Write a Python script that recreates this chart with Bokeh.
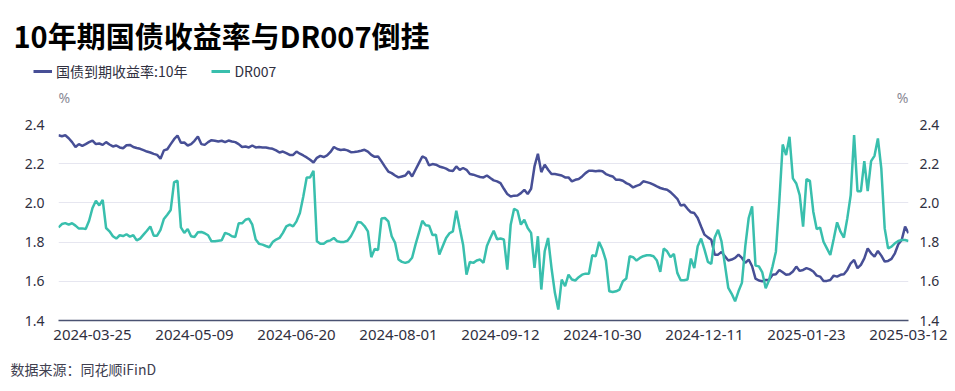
from bokeh.plotting import figure
from bokeh.layouts import column, row
from bokeh.models import (Range1d, LinearAxis, FixedTicker, Label, Legend,
                          LegendItem, PrintfTickFormatter)
from bokeh.embed import file_html
from bokeh.resources import INLINE

# ---------------- data ----------------
title_text = "10年期国债收益率与DR007倒挂"
series_names = ["国债到期收益率:10年", "DR007"]
source_text = "数据来源：同花顺iFinD"
unit_text = "%"

# trading-day positions that carry a date label, and the labels
tick_index = [10, 40, 70, 100, 130, 160, 190, 220, 250]
tick_labels = ["2024-03-25", "2024-05-09", "2024-06-20", "2024-08-01", "2024-09-12",
               "2024-10-30", "2024-12-11", "2025-01-23", "2025-03-12"]

y_ticks = [1.4, 1.6, 1.8, 2.0, 2.2, 2.4]

# 10Y government bond yield (%), one value per trading day
bond_10y = [
    2.345, 2.340, 2.345, 2.330, 2.310, 2.285, 2.300, 2.291, 2.300, 2.310,
    2.318, 2.300, 2.303, 2.296, 2.310, 2.298, 2.288, 2.293, 2.283, 2.279,
    2.294, 2.296, 2.285, 2.280, 2.276, 2.269, 2.262, 2.257, 2.250, 2.245,
    2.225, 2.268, 2.274, 2.300, 2.325, 2.344, 2.307, 2.308, 2.293, 2.300,
    2.317, 2.339, 2.300, 2.296, 2.310, 2.320, 2.317, 2.313, 2.317, 2.310,
    2.318, 2.313, 2.310, 2.300, 2.285, 2.288, 2.283, 2.293, 2.283, 2.285,
    2.283, 2.283, 2.279, 2.276, 2.268, 2.257, 2.262, 2.254, 2.245, 2.245,
    2.262, 2.251, 2.242, 2.232, 2.220, 2.206, 2.230, 2.240, 2.234, 2.242,
    2.260, 2.285, 2.275, 2.270, 2.272, 2.268, 2.259, 2.260, 2.262, 2.266,
    2.271, 2.262, 2.245, 2.235, 2.237, 2.212, 2.185, 2.160, 2.152, 2.140,
    2.130, 2.135, 2.140, 2.161, 2.135, 2.169, 2.203, 2.237, 2.229, 2.191,
    2.198, 2.195, 2.186, 2.181, 2.175, 2.165, 2.163, 2.186, 2.169, 2.178,
    2.169, 2.147, 2.144, 2.138, 2.132, 2.130, 2.140, 2.127, 2.115, 2.110,
    2.101, 2.072, 2.045, 2.033, 2.037, 2.038, 2.050, 2.067, 2.045, 2.072,
    2.186, 2.251, 2.157, 2.195, 2.169, 2.147, 2.147, 2.144, 2.140, 2.130,
    2.130, 2.110, 2.118, 2.122, 2.135, 2.152, 2.164, 2.164, 2.161, 2.164,
    2.161, 2.147, 2.140, 2.135, 2.118, 2.118, 2.113, 2.101, 2.093, 2.079,
    2.087, 2.093, 2.110, 2.106, 2.101, 2.093, 2.084, 2.076, 2.071, 2.067,
    2.055, 2.038, 2.021, 1.987, 1.991, 1.970, 1.952, 1.948, 1.923, 1.880,
    1.838, 1.824, 1.812, 1.735, 1.736, 1.750, 1.728, 1.706, 1.711, 1.719,
    1.736, 1.719, 1.694, 1.711, 1.677, 1.614, 1.604, 1.600, 1.607, 1.607,
    1.633, 1.636, 1.658, 1.646, 1.633, 1.636, 1.650, 1.675, 1.653, 1.658,
    1.667, 1.661, 1.650, 1.629, 1.624, 1.602, 1.602, 1.607, 1.629, 1.624,
    1.633, 1.636, 1.658, 1.692, 1.709, 1.667, 1.684, 1.717, 1.768, 1.743,
    1.726, 1.755, 1.731, 1.701, 1.704, 1.714, 1.743, 1.789, 1.811, 1.879,
    1.845,
]

# DR007 (%), one value per trading day
dr007 = [
    1.875, 1.892, 1.897, 1.889, 1.896, 1.884, 1.869, 1.870, 1.867, 1.909,
    1.974, 2.011, 1.987, 2.015, 1.872, 1.855, 1.830, 1.818, 1.835, 1.831,
    1.840, 1.828, 1.835, 1.809, 1.818, 1.838, 1.858, 1.880, 1.833, 1.833,
    1.863, 1.918, 1.940, 1.964, 2.106, 2.113, 1.875, 1.847, 1.867, 1.830,
    1.826, 1.850, 1.852, 1.845, 1.835, 1.804, 1.804, 1.807, 1.809, 1.847,
    1.841, 1.830, 1.826, 1.896, 1.896, 1.914, 1.920, 1.889, 1.813, 1.791,
    1.787, 1.780, 1.774, 1.800, 1.813, 1.821, 1.847, 1.880, 1.889, 1.880,
    1.906, 1.948, 2.033, 2.130, 2.130, 2.164, 1.804, 1.791, 1.791, 1.804,
    1.809, 1.821, 1.804, 1.801, 1.801, 1.807, 1.830, 1.863, 1.903, 1.900,
    1.882, 1.855, 1.723, 1.765, 1.760, 1.920, 1.923, 1.906, 1.830, 1.796,
    1.711, 1.699, 1.694, 1.700, 1.720, 1.787, 1.847, 1.909, 1.886, 1.884,
    1.836, 1.838, 1.736, 1.779, 1.821, 1.845, 1.855, 1.960, 1.872, 1.787,
    1.634, 1.699, 1.694, 1.706, 1.711, 1.694, 1.780, 1.821, 1.858, 1.815,
    1.818, 1.813, 1.660, 1.889, 1.970, 1.960, 1.889, 1.914, 1.872, 1.847,
    1.668, 1.830, 1.558, 1.753, 1.821, 1.668, 1.541, 1.456, 1.609, 1.575,
    1.634, 1.609, 1.604, 1.621, 1.634, 1.639, 1.639, 1.733, 1.728, 1.801,
    1.762, 1.706, 1.549, 1.545, 1.549, 1.558, 1.600, 1.614, 1.728, 1.723,
    1.706, 1.719, 1.728, 1.733, 1.733, 1.728, 1.706, 1.648, 1.767, 1.753,
    1.723, 1.740, 1.643, 1.605, 1.605, 1.609, 1.716, 1.668, 1.779, 1.818,
    1.762, 1.699, 1.689, 1.824, 1.863, 1.804, 1.685, 1.566, 1.536, 1.498,
    1.549, 1.592, 1.779, 1.923, 1.982, 1.680, 1.676, 1.645, 1.565, 1.607,
    1.675, 1.751, 2.006, 2.298, 2.244, 2.337, 2.125, 2.099, 2.040, 1.879,
    2.122, 2.112, 1.955, 1.867, 1.874, 1.802, 1.768, 1.734, 1.816, 1.901,
    1.853, 1.823, 1.921, 2.040, 2.346, 2.060, 2.060, 2.213, 2.060, 2.213,
    2.240, 2.329, 2.176, 1.870, 1.768, 1.777, 1.794, 1.806, 1.811, 1.811,
    1.806,
]

# ---------------- styling ----------------
BLUE = "#474f96"
TEAL = "#39bfad"
GRID = "#e6e6f0"
AXIS = "#4a5272"
TXT = "#30303f"
CJK = "Noto Sans CJK SC"
LAT = "Noto Sans"

W = 955
HEAD_H, MAIN_H, FOOT_H = 112, 240, 39
BL, BR, BT = 58, 47, 12
FH = 196
BB = MAIN_H - BT - FH
FW = W - BL - BR
days = list(range(max(len(bond_10y), len(dr007))))


def blank(height):
    f = figure(width=W, height=height, output_backend="svg", toolbar_location=None,
               x_range=Range1d(0, W), y_range=Range1d(height, 0),
               x_axis_location=None, y_axis_location=None,
               min_border=0, min_border_left=0, min_border_right=0,
               min_border_top=0, min_border_bottom=0)
    f.outline_line_color = None
    f.grid.visible = False
    f.background_fill_color = "white"
    f.border_fill_color = "white"
    return f


# ---------- header: title, legend, units ----------
head = blank(HEAD_H)
head.add_layout(Label(x=13, y=34, text=title_text, text_font=CJK, text_font_size="29px",
                      text_font_style="bold", text_color="black",
                      text_baseline="middle", text_align="left"))
h1 = head.line(days[:len(bond_10y)], bond_10y, line_color=BLUE, line_width=3, visible=False)
h2 = head.line(days[:len(dr007)], dr007, line_color=TEAL, line_width=3, visible=False)
legend = Legend(items=[LegendItem(label=series_names[0], renderers=[h1]),
                       LegendItem(label=series_names[1], renderers=[h2])],
                orientation="horizontal", location=(33, HEAD_H - 81),
                border_line_color=None, background_fill_alpha=0,
                inactive_fill_alpha=0,
                padding=0, margin=0, spacing=24, label_standoff=4,
                glyph_width=19, glyph_height=18,
                label_text_font=CJK, label_text_font_size="14px",
                label_text_color=TXT)
head.add_layout(legend)
head.add_layout(Label(x=BL, y=97, text=unit_text, text_font=LAT, text_font_size="14px",
                      text_color="#8a8a95", text_baseline="middle", text_align="left"))
head.add_layout(Label(x=BL + FW, y=97, text=unit_text, text_font=LAT,
                      text_font_size="14px", text_color="#8a8a95",
                      text_baseline="middle", text_align="right"))

# ---------- main chart ----------
p = figure(width=W, height=MAIN_H, output_backend="svg", toolbar_location=None,
           x_range=Range1d(0, len(days) - 1), y_range=Range1d(y_ticks[0], y_ticks[-1]),
           min_border_left=BL, min_border_right=BR, min_border_top=BT,
           min_border_bottom=BB, y_axis_location=None, x_axis_location=None)
p.outline_line_color = None
p.background_fill_color = "white"
p.border_fill_color = "white"
p.extra_y_ranges = {"r": Range1d(y_ticks[0], y_ticks[-1])}


def style_y(ax, standoff):
    ax.ticker = FixedTicker(ticks=y_ticks)
    ax.formatter = PrintfTickFormatter(format="%.1f")
    ax.axis_line_color = None
    ax.major_tick_line_color = None
    ax.minor_tick_line_color = None
    ax.major_label_text_font = LAT
    ax.major_label_text_font_size = "14px"
    ax.major_label_text_color = TXT
    ax.major_label_standoff = standoff


left = LinearAxis()
style_y(left, 8)
p.add_layout(left, "left")
right = LinearAxis(y_range_name="r")
style_y(right, 5)
p.add_layout(right, "right")

bottom = LinearAxis(ticker=FixedTicker(ticks=tick_index),
                    major_label_overrides={t: l for t, l in zip(tick_index, tick_labels)})
bottom.axis_line_color = AXIS
bottom.axis_line_width = 1.5
bottom.major_tick_line_color = None
bottom.minor_tick_line_color = None
bottom.major_label_text_font = LAT
bottom.major_label_text_font_size = "15px"
bottom.major_label_text_color = TXT
bottom.major_label_standoff = 3
p.add_layout(bottom, "below")

p.xgrid.visible = False
p.ygrid.ticker = FixedTicker(ticks=y_ticks)
p.ygrid.grid_line_color = GRID
p.ygrid.grid_line_width = 1

p.line(days[:len(bond_10y)], bond_10y, line_color=BLUE, line_width=2.5)
p.line(days[:len(dr007)], dr007, line_color=TEAL, line_width=2.5)

# ---------- footer: source ----------
foot = blank(FOOT_H)
foot.add_layout(Label(x=10, y=16, text=source_text, text_font=CJK, text_font_size="14px",
                      text_color="#404050", text_baseline="middle", text_align="left"))

layout = column(row(head), p, row(foot), spacing=0)
open("out.html", "w").write(file_html(layout, INLINE))
